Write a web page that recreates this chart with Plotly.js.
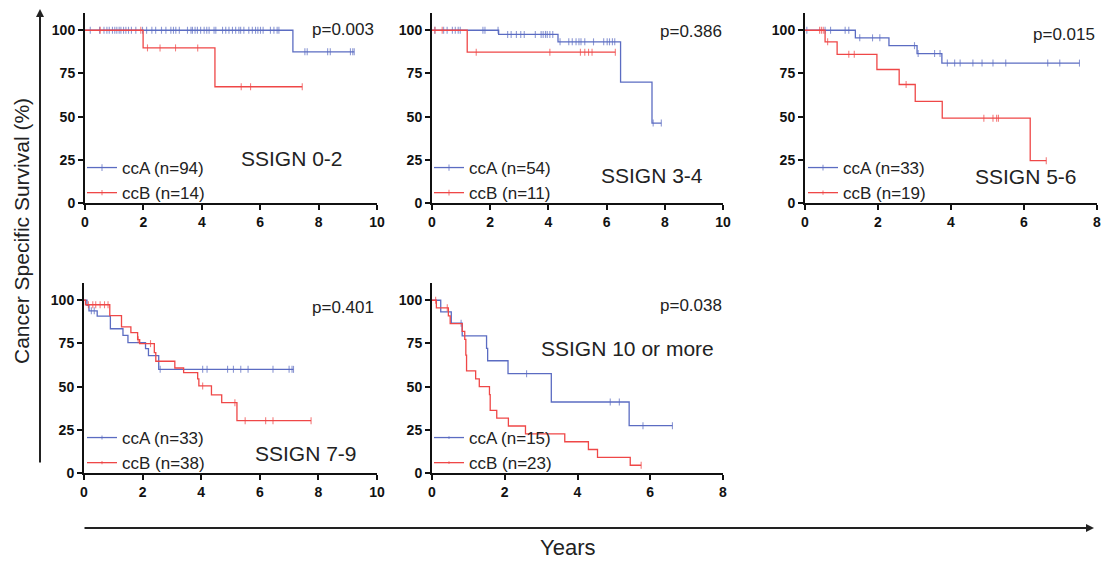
<!DOCTYPE html>
<html><head><meta charset="utf-8">
<script src="https://cdn.plot.ly/plotly-3.0.1.min.js"></script>
<style>html,body{margin:0;padding:0;background:#fff}#chart{width:1105px;height:561px}</style>
</head><body><div id="chart"></div>
<script>
// ---------- data (years, survival %) ----------
// Panel 1: SSIGN 0-2
const p1A_t = [0, 7.12];
const p1A_s = [100, 87.5];
const p1A_end = 9.22;
const p1A_c = [0.18,0.5,0.65,0.75,0.83,0.94,1.02,1.09,1.17,1.23,1.32,1.4,1.49,1.59,1.74,1.97,2.11,2.29,2.42,2.62,2.77,2.94,3.03,3.11,3.23,3.51,3.63,3.68,3.77,3.85,3.96,4.08,4.17,4.25,4.42,4.48,4.71,4.82,4.93,5.05,5.16,5.27,5.33,5.44,5.61,5.73,5.84,5.92,6.01,6.1,6.35,6.47,6.58,6.64,7.53,7.61,8.31,8.4,9.09,9.17,9.22];
const p1B_t = [0, 1.99, 4.45];
const p1B_s = [100, 89.8, 67.3];
const p1B_end = 7.44;
const p1B_c = [0.52, 1.91, 2.14, 2.57, 3.1, 3.86, 5.35, 5.67, 7.44];

// Panel 2: SSIGN 3-4
const p2A_t = [0, 2.29, 4.33, 6.48, 7.56];
const p2A_s = [100, 97.6, 93.3, 70, 46.3];
const p2A_end = 7.88;
const p2A_c = [0.1,0.4,0.52,0.7,0.8,0.9,0.97,1.75,1.82,2.27,2.6,2.72,2.9,3.05,3.17,3.55,3.75,3.82,3.9,3.96,4.05,4.15,4.4,4.7,4.82,4.95,5.05,5.12,5.25,5.55,5.9,6.02,6.1,6.2,6.28,7.6,7.88];
const p2B_t = [0, 1.21];
const p2B_s = [100, 87.3];
const p2B_end = 6.3;
const p2B_c = [0.1, 0.35, 1.52, 4.05, 5.1, 5.25, 5.38, 5.5, 6.3];

// Panel 3: SSIGN 5-6
const p3A_t = [0, 1.38, 2.3, 3.07, 3.75];
const p3A_s = [100, 95.6, 91.1, 86.5, 81];
const p3A_end = 7.52;
const p3A_c = [0.05,0.55,0.7,1.1,1.2,1.5,1.85,2.05,3.0,3.1,3.55,3.7,3.9,4.1,4.25,4.6,4.85,5.15,5.5,6.65,6.98,7.52];
const p3B_t = [0, 0.55, 0.88, 1.97, 2.58, 3.02, 3.76, 6.17];
const p3B_s = [100, 93.3, 86.1, 77.3, 68.6, 58.8, 49.1, 24.5];
const p3B_end = 6.61;
const p3B_c = [0.4, 0.45, 0.5, 0.62, 1.2, 1.35, 2.77, 4.9, 5.15, 5.25, 5.3, 6.61];

// Panel 4: SSIGN 7-9
const p4A_t = [0, 0.1, 0.17, 0.45, 0.9, 1.33, 1.5, 2.1, 2.2, 2.55];
const p4A_s = [100, 97, 93.9, 90.8, 83.5, 79.7, 75.5, 72, 68, 60];
const p4A_end = 7.15;
const p4A_c = [0.25, 0.35, 2.6, 4.05, 4.2, 4.9, 5.1, 5.35, 5.6, 6.45, 7.0, 7.1, 7.15];
const p4B_t = [0, 0.05, 0.88, 1.28, 1.6, 1.83, 1.9, 2.4, 2.45, 3.1, 3.4, 3.88, 3.92, 4.35, 4.7, 5.22];
const p4B_s = [100, 97.4, 91.1, 84.6, 81.3, 77.2, 74.9, 69.7, 64.7, 60.8, 58.1, 54.5, 50.4, 45.2, 40.7, 30.3];
const p4B_end = 7.75;
const p4B_c = [0.15, 0.3, 0.4, 0.55, 0.7, 0.82, 1.85, 2.27, 4.05, 5.15, 5.5, 6.2, 6.45, 7.75];

// Panel 5: SSIGN 10 or more
const p5A_t = [0, 0.24, 0.53, 0.83, 1.5, 1.53, 2.09, 3.28, 5.42];
const p5A_s = [100, 93.3, 86.7, 79.4, 72.2, 65, 57.5, 41.1, 27.4];
const p5A_end = 6.61;
const p5A_c = [0.8, 2.6, 4.9, 5.15, 5.8, 6.61];
const p5B_t = [0, 0.12, 0.45, 0.5, 0.83, 0.9, 0.93, 0.95, 1.2, 1.3, 1.58, 1.6, 1.78, 2.1, 2.57, 3.65, 4.3, 4.55, 5.45];
const p5B_s = [100, 95.6, 91, 86.5, 82, 77.4, 68.2, 59.1, 54.5, 50, 45.4, 36.3, 31.8, 27.2, 22.7, 18.1, 13.6, 9.1, 4.5];
const p5B_end = 5.75;
const p5B_c = [0.1, 0.42, 5.75];

const panelTitles = ['SSIGN 0-2','SSIGN 3-4','SSIGN 5-6','SSIGN 7-9','SSIGN 10 or more'];
const pValues = ['p=0.003','p=0.386','p=0.015','p=0.401','p=0.038'];
const namesA = ['ccA (n=94)','ccA (n=54)','ccA (n=33)','ccA (n=33)','ccA (n=15)'];
const namesB = ['ccB (n=14)','ccB (n=11)','ccB (n=19)','ccB (n=38)','ccB (n=23)'];
const xMax = [10, 10, 8, 10, 8];
const yTicks = [0, 25, 50, 75, 100];

// ---------- build ----------
const W = 1105, H = 561;
const px = v => v / W, py = v => 1 - v / H;
const BLUE = '#5b6cc2', RED = '#ef4747';
const FONT = 'Liberation Sans, Arial, Helvetica, sans-serif';

function kmTrace(t, s, end, c, name, color, idx) {
  const step = tt => { let v = s[0]; for (let i = 0; i < t.length; i++) { if (t[i] <= tt) v = s[i]; } return v; };
  const pts = [];
  for (let i = 0; i < t.length; i++) pts.push({x: t[i], y: s[i], c: false});
  c.forEach(cc => pts.push({x: cc, y: step(cc), c: true}));
  if (!c.includes(end)) pts.push({x: end, y: step(end), c: false});
  pts.sort((a, b) => a.x - b.x);
  const sfx = idx === 1 ? '' : String(idx);
  return {
    type: 'scatter', mode: 'lines+markers',
    x: pts.map(p => p.x), y: pts.map(p => p.y), name: name,
    xaxis: 'x' + sfx, yaxis: 'y' + sfx, legend: 'legend' + sfx,
    line: {shape: 'hv', color: color, width: 1.3},
    marker: {symbol: 'line-ns-open', size: pts.map(p => p.c ? 5 : 0), color: color, line: {color: color, width: 1.1}},
    hoverinfo: 'skip'
  };
}

const series = [
  [p1A_t, p1A_s, p1A_end, p1A_c, p1B_t, p1B_s, p1B_end, p1B_c],
  [p2A_t, p2A_s, p2A_end, p2A_c, p2B_t, p2B_s, p2B_end, p2B_c],
  [p3A_t, p3A_s, p3A_end, p3A_c, p3B_t, p3B_s, p3B_end, p3B_c],
  [p4A_t, p4A_s, p4A_end, p4A_c, p4B_t, p4B_s, p4B_end, p4B_c],
  [p5A_t, p5A_s, p5A_end, p5A_c, p5B_t, p5B_s, p5B_end, p5B_c]
];
const data = [];
series.forEach((d, i) => {
  data.push(kmTrace(d[0], d[1], d[2], d[3], namesA[i], BLUE, i + 1));
  data.push(kmTrace(d[4], d[5], d[6], d[7], namesB[i], RED, i + 1));
});

// panel pixel boxes [left, right, top, bottom]
const boxes = [[85,377,13,203],[432,723,13,203],[805,1097,13,203],[84,377,283,473],[432,723,283,473]];
const pPos = [[343,29],[691,32],[1064,35],[343,307],[691,305]];
const tPos = [[292,158],[652,175],[1026,177],[306,453],[627,348]];
const lPos = [[82,150],[429,150],[803,150],[82,420],[429,420]];

const layout = {
  width: W, height: H, margin: {l:0, r:0, t:0, b:0},
  paper_bgcolor: '#fff', plot_bgcolor: 'rgba(0,0,0,0)',
  font: {family: FONT, color: '#222'},
  annotations: [], showlegend: true
};
boxes.forEach((b, i) => {
  const sfx = i === 0 ? '' : String(i + 1);
  const xv = [];
  for (let v = 0; v <= xMax[i]; v += 2) xv.push(v);
  layout['xaxis' + sfx] = {
    domain: [px(b[0]), px(b[1])], anchor: 'y' + sfx, range: [0, xMax[i]],
    tickvals: xv, ticktext: xv.map(v => '<b>' + v + '</b>'),
    showline: true, linewidth: 2, linecolor: '#111', ticks: 'outside', ticklen: 5, tickwidth: 2, tickcolor: '#111',
    showgrid: false, zeroline: false, fixedrange: true,
    tickfont: {family: FONT, size: 14, color: '#111'}
  };
  layout['yaxis' + sfx] = {
    domain: [py(b[3]), py(b[2])], anchor: 'x' + sfx, range: [0, 110],
    tickvals: yTicks, ticktext: yTicks.map(v => '<b>' + v + '</b>'),
    showline: true, linewidth: 2, linecolor: '#111', ticks: 'outside', ticklen: 5, tickwidth: 2, tickcolor: '#111',
    showgrid: false, zeroline: false, fixedrange: true,
    tickfont: {family: FONT, size: 14, color: '#111'}
  };
  layout['legend' + sfx] = {
    x: px(lPos[i][0]), y: py(lPos[i][1]), xanchor: 'left', yanchor: 'top',
    bgcolor: 'rgba(0,0,0,0)', font: {family: FONT, size: 17, color: '#222'},
    itemwidth: 30, tracegroupgap: 0, itemclick: false, itemdoubleclick: false
  };
  layout.annotations.push({xref:'paper', yref:'paper', x: px(pPos[i][0]), y: py(pPos[i][1]), text: pValues[i],
    showarrow:false, xanchor:'center', yanchor:'middle', font:{family:FONT, size:17, color:'#222'}});
  layout.annotations.push({xref:'paper', yref:'paper', x: px(tPos[i][0]), y: py(tPos[i][1]), text: panelTitles[i],
    showarrow:false, xanchor:'center', yanchor:'middle', font:{family:FONT, size:21, color:'#222'}});
});
// overall axis titles and arrows
layout.annotations.push({xref:'paper', yref:'paper', x: px(21), y: py(231), text: 'Cancer Specific Survival (%)',
  textangle: -90, showarrow:false, xanchor:'center', yanchor:'middle', font:{family:FONT, size:21, color:'#222'}});
layout.annotations.push({xref:'paper', yref:'paper', x: px(567), y: py(547), text: 'Years',
  showarrow:false, xanchor:'center', yanchor:'middle', font:{family:FONT, size:22, color:'#222'}});
layout.annotations.push({xref:'paper', yref:'paper', x: px(40), y: py(9), ax: 0, ay: 455, text: '',
  showarrow:true, arrowhead:2, arrowsize:0.8, arrowwidth:2, arrowcolor:'#222'});
layout.annotations.push({xref:'paper', yref:'paper', x: px(1094), y: py(528), ax: -1011, ay: 0, text: '',
  showarrow:true, arrowhead:2, arrowsize:0.8, arrowwidth:2, arrowcolor:'#222'});

Plotly.newPlot('chart', data, layout, {displayModeBar:false, staticPlot:true});
</script></body></html>
